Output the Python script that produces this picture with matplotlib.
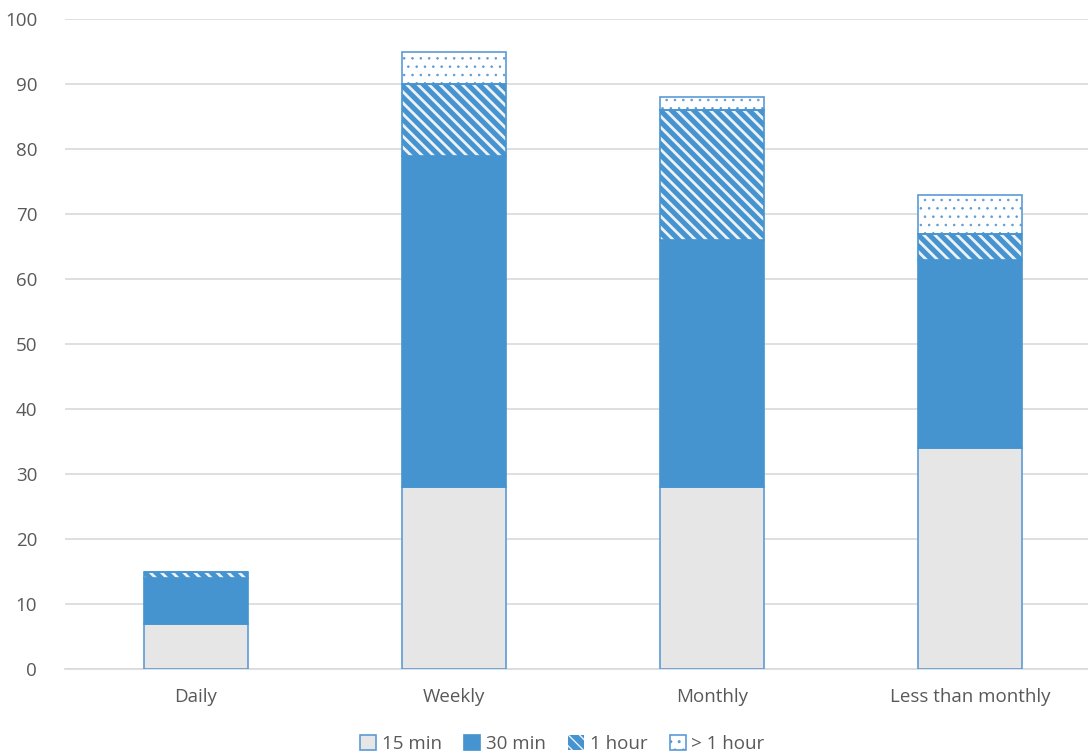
import matplotlib
matplotlib.use("Agg")
import matplotlib.pyplot as plt
from matplotlib.patches import Patch
import numpy as np

plt.rcParams['font.family'] = ['Open Sans', 'DejaVu Sans']

categories = ["Daily", "Weekly", "Monthly", "Less than monthly"]
series_names = ["15 min", "30 min", "1 hour", "> 1 hour"]
min15 = [7, 28, 28, 34]
min30 = [7, 51, 38, 29]
hour1 = [1, 11, 20, 4]
over_hour = [0, 5, 2, 6]
y_ticks = [0, 10, 20, 30, 40, 50, 60, 70, 80, 90, 100]

BLUE = "#4594D0"
EDGE = "#5B9BD5"
GREY_FILL = "#E7E6E6"
TEXT = "#595959"
GRID = "#D9D9D9"
STRIPE = "#EEF2F6"
STRIPE_HATCH = "\\\\\\"
DOT_HATCH = ".."

fig = plt.figure(figsize=(10.88, 7.55), dpi=100)
ax = fig.add_axes([0.0597, 0.1139, 0.9403, 0.8609])

x = np.arange(len(categories))
w = 0.40
b1 = np.array(min15)
b2 = b1 + np.array(min30)
b3 = b2 + np.array(hour1)

# 15 min
ax.bar(x, min15, w, color=GREY_FILL, edgecolor=EDGE, linewidth=1.2, zorder=3)
# 30 min
ax.bar(x, min30, w, bottom=b1, color=BLUE, edgecolor=BLUE, linewidth=1.2, zorder=3)
# 1 hour: blue fill with light diagonal stripes, then blue outline
with plt.rc_context({'hatch.linewidth': 2.0}):
    ax.bar(x, hour1, w, bottom=b2, color=BLUE, edgecolor=STRIPE, hatch=STRIPE_HATCH,
           linewidth=0, zorder=3)
    stripe_handle = Patch(facecolor=BLUE, edgecolor=STRIPE, hatch=STRIPE_HATCH, linewidth=0)
ax.bar(x, hour1, w, bottom=b2, fill=False, edgecolor=BLUE, linewidth=1.2, zorder=4)
# > 1 hour: white fill with small blue dots
with plt.rc_context({'hatch.linewidth': 0.6}):
    ax.bar(x, over_hour, w, bottom=b3, color="white", edgecolor=EDGE, hatch=DOT_HATCH,
           linewidth=1.2, zorder=3)
    dot_handle = Patch(facecolor="white", edgecolor=EDGE, hatch=DOT_HATCH, linewidth=1.2)

ax.set_xlim(-0.508, 3.457)
ax.set_ylim(0, 100)
ax.set_yticks(y_ticks)
ax.set_xticks(x)
ax.set_xticklabels(categories)
ax.yaxis.grid(True, color=GRID, linewidth=1.2, zorder=0)
ax.set_axisbelow(True)
for s in ["top", "right", "left"]:
    ax.spines[s].set_visible(False)
ax.spines["bottom"].set_color(GRID)
ax.spines["bottom"].set_linewidth(1.2)
ax.tick_params(axis="both", length=0, labelsize=13.5, colors=TEXT)
ax.tick_params(axis="y", pad=20)
ax.tick_params(axis="x", pad=14)

handles = [
    Patch(facecolor=GREY_FILL, edgecolor=EDGE, linewidth=1.2),
    Patch(facecolor=BLUE, edgecolor=BLUE, linewidth=1.2),
    stripe_handle,
    dot_handle,
]
fig.legend(handles, series_names, loc="lower center", ncol=4, frameon=False,
           bbox_to_anchor=(0.517, -0.02), fontsize=13.5, labelcolor=TEXT,
           handlelength=0.85, handleheight=0.85, handletextpad=0.3,
           columnspacing=1.2)

fig.savefig("out.png", dpi=100)
